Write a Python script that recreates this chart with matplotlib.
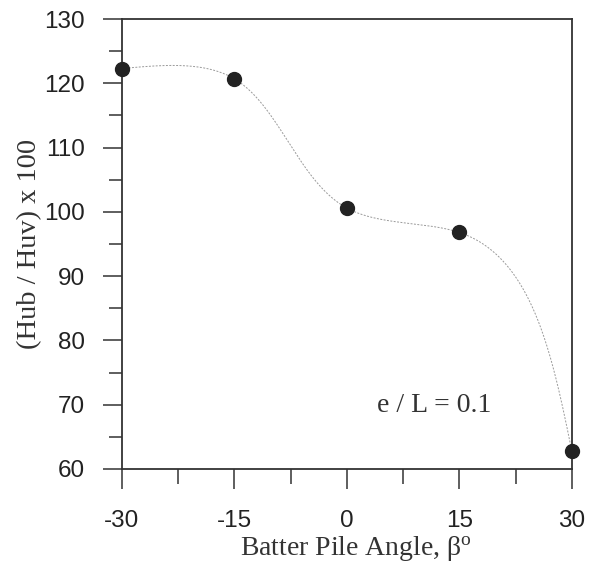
import numpy as np
import matplotlib
matplotlib.use("Agg")
import matplotlib.pyplot as plt
from matplotlib.ticker import MultipleLocator

# Batter pile angle (degrees) and horizontal capacity ratio (x100)
angle = [-30, -15, 0, 15, 30]
ratio = [122.3, 120.7, 100.6, 96.8, 62.8]
x_ticks = [-30, -15, 0, 15, 30]
y_ticks = [60, 70, 80, 90, 100, 110, 120, 130]


def natural_spline_1d(t, v, ts):
    t = np.asarray(t, float)
    v = np.asarray(v, float)
    n = len(t)
    h = np.diff(t)
    A = np.zeros((n, n))
    b = np.zeros(n)
    A[0, 0] = A[-1, -1] = 1.0
    for i in range(1, n - 1):
        A[i, i - 1] = h[i - 1]
        A[i, i] = 2 * (h[i - 1] + h[i])
        A[i, i + 1] = h[i]
        b[i] = 6 * ((v[i + 1] - v[i]) / h[i] - (v[i] - v[i - 1]) / h[i - 1])
    M = np.linalg.solve(A, b)
    idx = np.clip(np.searchsorted(t, ts) - 1, 0, n - 2)
    t0, t1 = t[idx], t[idx + 1]
    hh = t1 - t0
    a = t1 - ts
    c = ts - t0
    return (M[idx] * a**3 / (6 * hh) + M[idx + 1] * c**3 / (6 * hh)
            + (v[idx] / hh - M[idx] * hh / 6) * a
            + (v[idx + 1] / hh - M[idx + 1] * hh / 6) * c)


def smooth_curve(ax, x, y, n=600):
    """Parametric (chord-length) spline through the points, built in display space."""
    pts = ax.transData.transform(np.column_stack([x, y]))
    seg = np.hypot(*np.diff(pts, axis=0).T)
    t = np.concatenate([[0.0], np.cumsum(seg)])
    ts = np.linspace(0.0, t[-1], n)
    px = natural_spline_1d(t, pts[:, 0], ts)
    py = natural_spline_1d(t, pts[:, 1], ts)
    out = ax.transData.inverted().transform(np.column_stack([px, py]))
    return out[:, 0], out[:, 1]


plt.rcParams["mathtext.fontset"] = "custom"
plt.rcParams["mathtext.rm"] = "Liberation Serif"
plt.rcParams["mathtext.it"] = "Liberation Serif:italic"
plt.rcParams["axes.unicode_minus"] = False

fig = plt.figure(figsize=(6.0, 5.66), dpi=100)
ax = fig.add_axes([0.203, 0.1714, 0.750, 0.795])
ax.set_xlim(-30, 30)
ax.set_ylim(60, 130)

cx, cy = smooth_curve(ax, angle, ratio)
ax.plot(cx, cy, color="#9a9a9a", lw=0.7, ls=(0, (2.0, 1.5)), zorder=2)
ax.plot(angle, ratio, "o", color="#222222", ms=10, zorder=3, clip_on=False)

ax.set_xticks(x_ticks)
ax.set_yticks(y_ticks)
ax.xaxis.set_minor_locator(MultipleLocator(7.5))
ax.yaxis.set_minor_locator(MultipleLocator(5))

for s in ax.spines.values():
    s.set_linewidth(1.3)
    s.set_color("#333333")

ax.tick_params(axis="x", which="major", direction="out", length=14.4, width=1.1,
               color="#333333", pad=15)
ax.tick_params(axis="x", which="minor", direction="out", length=10.8, width=1.1,
               color="#333333")
ax.tick_params(axis="y", which="major", direction="out", length=13.7, width=1.1,
               color="#333333", pad=13)
ax.tick_params(axis="y", which="minor", direction="out", length=9.4, width=1.1,
               color="#333333")
for lab in ax.get_xticklabels() + ax.get_yticklabels():
    lab.set_fontfamily("Liberation Sans")
    lab.set_fontsize(17.5)
    lab.set_color("#222222")

ax.set_xlabel(r"Batter Pile Angle, β$^{\mathrm{o}}$", fontfamily="Liberation Serif",
              fontsize=20, color="#333333", labelpad=2)
ax.xaxis.set_label_coords(0.52, -0.145, transform=ax.transAxes)
ax.xaxis.label.set_va("top")
ax.set_ylabel("(Hub / Huv) x 100", fontfamily="Liberation Serif",
              fontsize=20.5, color="#333333", labelpad=1)

ax.text(4.0, 69.9, "e / L = 0.1", fontfamily="Liberation Serif", fontsize=20,
        color="#333333", va="center", ha="left")

fig.savefig("out.png", dpi=100)
